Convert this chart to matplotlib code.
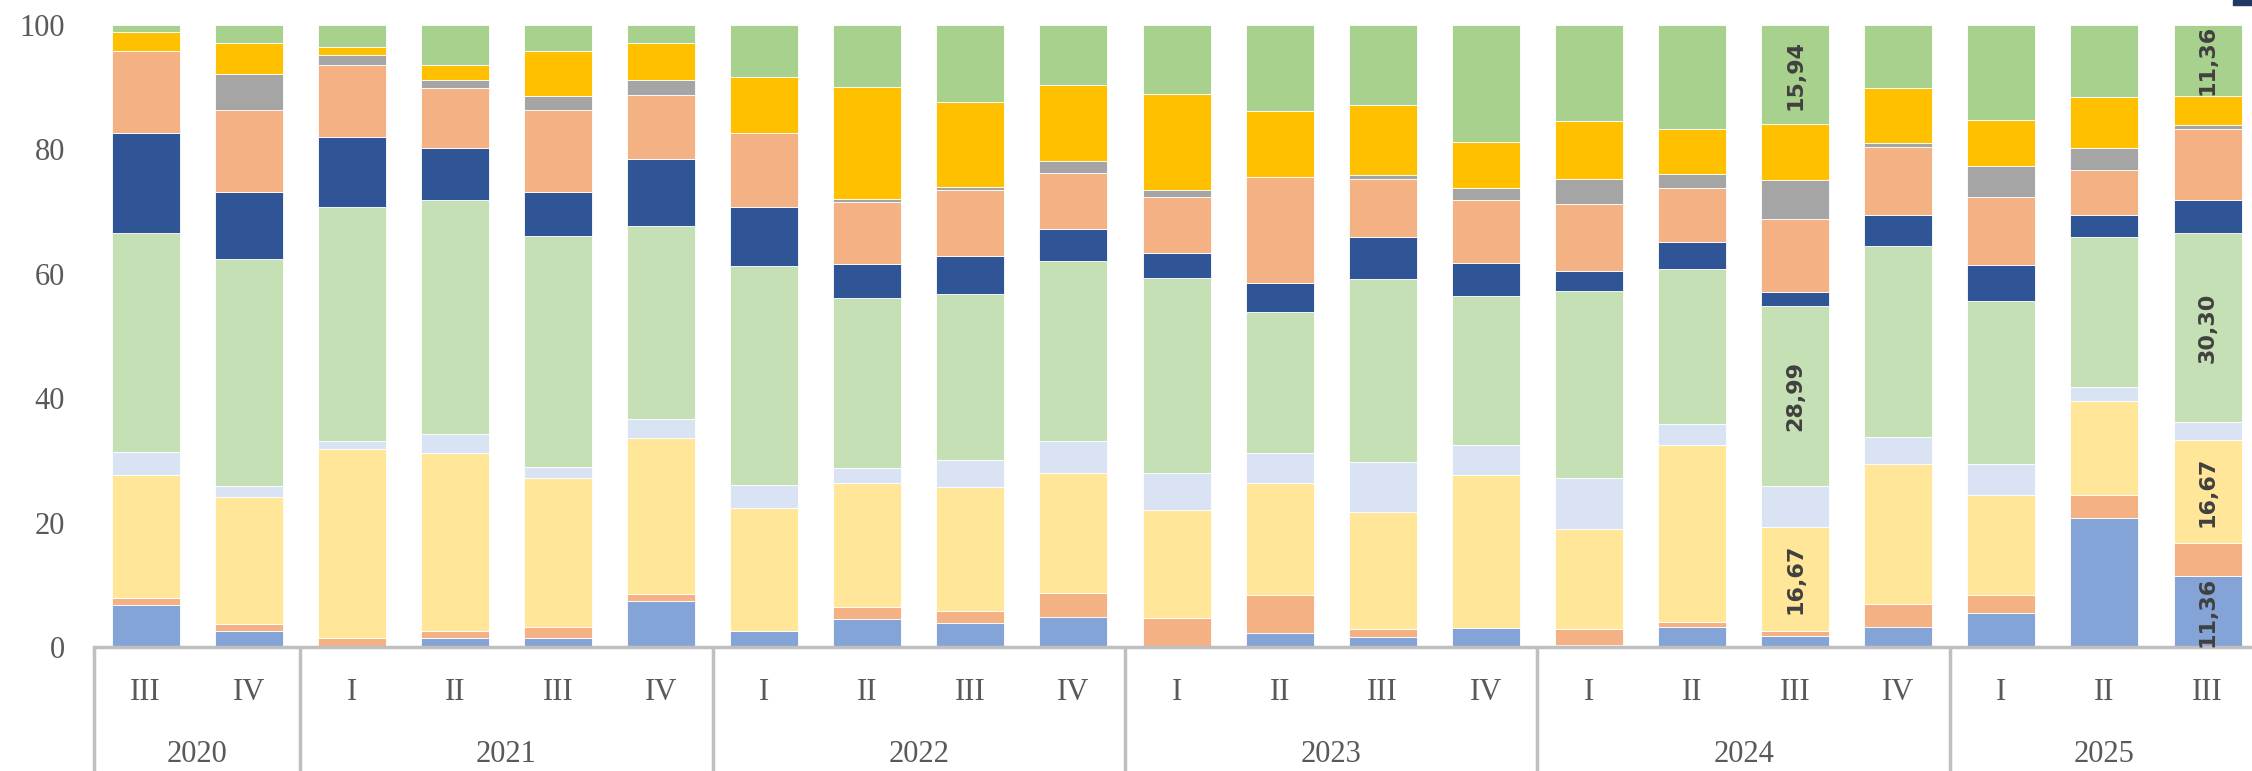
import matplotlib
matplotlib.use("Agg")
import matplotlib.pyplot as plt
from matplotlib.patches import Rectangle
import numpy as np

quarters = ["III", "IV", "I", "II", "III", "IV", "I", "II", "III", "IV",
            "I", "II", "III", "IV", "I", "II", "III", "IV", "I", "II", "III"]
years = ["2020", "2021", "2022", "2023", "2024", "2025"]
year_counts = [2, 4, 4, 4, 4, 3]

# segment values, bottom to top
s1_lightblue = [6.75, 2.6, 0.0, 1.45, 1.45, 7.4, 2.63, 4.55, 3.9, 4.77, 0.21, 2.3, 1.66, 3.0, 0.32, 3.2, 1.82, 3.26, 5.4, 20.8, 11.36]
s2_salmon = [1.18, 1.1, 1.45, 1.18, 1.75, 1.17, 0.0, 1.88, 1.94, 3.91, 4.45, 6.06, 1.28, 0.0, 2.62, 0.77, 0.75, 3.64, 2.96, 3.6, 5.3]
s3_yellow = [19.72, 20.4, 30.45, 28.57, 23.9, 25.08, 19.67, 19.87, 19.86, 19.22, 17.44, 18.04, 18.81, 24.7, 16.06, 28.43, 16.67, 22.6, 16.04, 15.2, 16.67]
s4_paleblue = [3.7, 1.8, 1.2, 3.1, 1.8, 3.05, 3.7, 2.5, 4.3, 5.2, 5.9, 4.8, 7.95, 4.7, 8.1, 3.5, 6.66, 4.3, 5.0, 2.25, 2.85]
s5_lightgreen = [35.15, 36.5, 37.6, 37.6, 37.1, 31.0, 35.2, 27.3, 26.7, 29.0, 31.4, 22.7, 29.5, 24.1, 30.1, 24.8, 28.99, 30.6, 26.2, 24.05, 30.30]
s6_darkblue = [16.2, 10.7, 11.3, 8.4, 7.1, 10.8, 9.5, 5.5, 6.1, 5.1, 3.9, 4.7, 6.7, 5.3, 3.25, 4.4, 2.17, 5.05, 5.8, 3.55, 5.4]
s7_salmon = [13.1, 13.2, 11.5, 9.6, 13.2, 10.2, 12.0, 9.9, 10.6, 9.0, 9.0, 16.9, 9.3, 10.1, 10.75, 8.75, 11.7, 10.95, 10.9, 7.3, 11.4]
s8_gray = [0.0, 5.9, 1.7, 1.2, 2.3, 2.4, 0.0, 0.6, 0.6, 1.9, 1.2, 0.0, 0.7, 1.95, 4.0, 2.15, 6.4, 0.7, 5.1, 3.55, 0.7]
s9_gold = [3.0, 4.9, 1.2, 2.4, 7.2, 6.0, 8.9, 18.0, 13.7, 12.3, 15.45, 10.6, 11.3, 7.35, 9.4, 7.2, 8.9, 8.7, 7.4, 8.1, 4.66]
s10_green = [1.2, 2.9, 3.6, 6.5, 4.2, 2.9, 8.4, 9.9, 12.3, 9.6, 11.05, 13.9, 12.8, 18.8, 15.4, 16.8, 15.94, 10.2, 15.2, 11.6, 11.36]

series = [s1_lightblue, s2_salmon, s3_yellow, s4_paleblue, s5_lightgreen,
          s6_darkblue, s7_salmon, s8_gray, s9_gold, s10_green]
colors = ["#84A3D7", "#F4B183", "#FFE699", "#DAE3F3", "#C5E0B4",
          "#2F5597", "#F4B183", "#A5A5A5", "#FFC000", "#A9D18E"]

# data labels: (bar index, series index, text)
labels = [(16, 2, "16,67"), (16, 4, "28,99"), (16, 9, "15,94"),
          (20, 0, "11,36"), (20, 2, "16,67"), (20, 4, "30,30"), (20, 9, "11,36")]

W, H = 2252, 771
fig = plt.figure(figsize=(W / 100, H / 100), dpi=100)
ax_left = 94 / W
ax_bottom = (H - 647) / H
ax_top = (H - 25) / H
ax = fig.add_axes([ax_left, ax_bottom, 1 - ax_left, ax_top - ax_bottom])

x = np.arange(len(quarters))
bottom = np.zeros(len(quarters))
for vals, c in zip(series, colors):
    v = np.array(vals)
    ax.bar(x, v, bottom=bottom, width=0.66, color=c, edgecolor="white", linewidth=0.6)
    bottom += v

cum = np.cumsum(np.array(series), axis=0)
for bi, si, txt in labels:
    lo = cum[si - 1][bi] if si > 0 else 0
    hi = cum[si][bi]
    ax.text(bi, (lo + hi) / 2, txt, rotation=90, ha="center", va="center",
            fontsize=16, fontweight="bold", color="#404040", family="DejaVu Sans")

ax.set_xlim(-0.5, -0.5 + (W - 94) / 103.1)
ax.set_ylim(0, 100)
ax.set_yticks([0, 20, 40, 60, 80, 100])
ax.set_yticklabels(["0", "20", "40", "60", "80", "100"], family="Liberation Serif",
                   fontsize=22, color="#595959")
ax.tick_params(axis="y", length=0, pad=21)
ax.set_xticks([])
for s in ["left", "right", "top"]:
    ax.spines[s].set_visible(False)
ax.spines["bottom"].set_color("#BFBFBF")
ax.spines["bottom"].set_linewidth(2.5)

trans = ax.get_xaxis_transform()
depth = -(H - 647) / 622
for i, q in enumerate(quarters):
    ax.text(i, (647 - 692) / 622, q, transform=trans, ha="center", va="center",
            family="Liberation Serif", fontsize=22, color="#595959")

start = 0
bounds = [-0.5]
for yname, n in zip(years, year_counts):
    center = start + (n - 1) / 2
    ax.text(center, (647 - 754) / 622, yname, transform=trans, ha="center", va="center",
            family="Liberation Serif", fontsize=22, color="#595959")
    start += n
    bounds.append(start - 0.5)
for b in bounds:
    ax.plot([b, b], [0, depth], transform=trans, color="#BFBFBF", linewidth=2.5,
            clip_on=False, solid_capstyle="butt")

fig.patches.append(Rectangle((2233 / W, 1 - 5 / H), 19 / W, 5 / H,
                             transform=fig.transFigure, color="#1F3864"))

fig.savefig("out.png", dpi=100)
